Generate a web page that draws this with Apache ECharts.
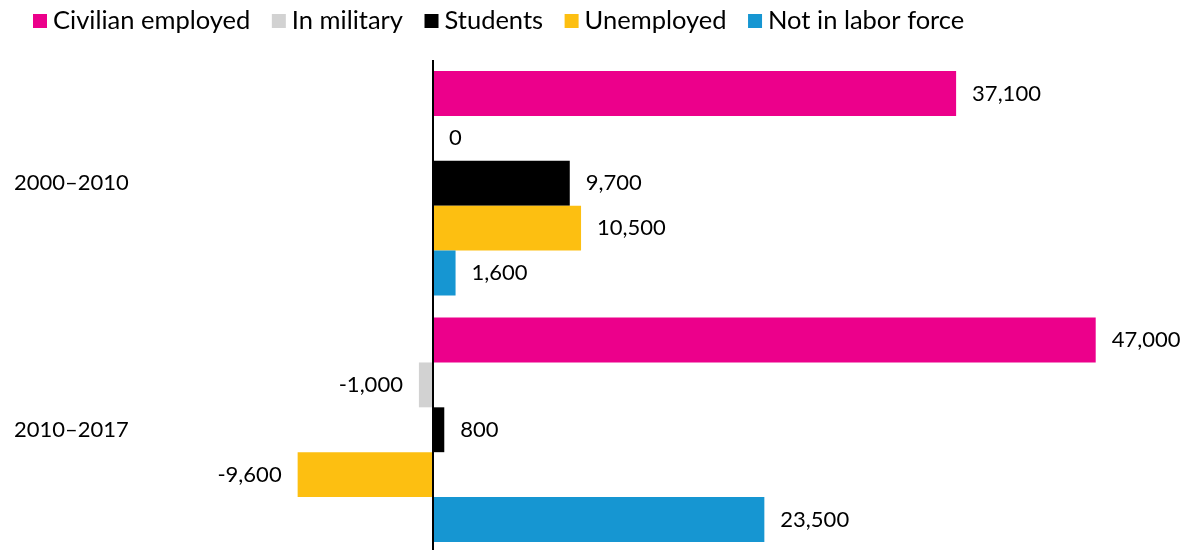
<!DOCTYPE html>
<html>
<head>
<meta charset="utf-8">
<script src="https://cdn.jsdelivr.net/npm/echarts@6/dist/echarts.min.js"></script>
<style>
  html, body { margin: 0; padding: 0; background: #fff; overflow: hidden; }
  #chart { width: 1190px; height: 560px; }
</style>
</head>
<body>
<div id="chart"></div>
<script>
const periods = ['2000–2010', '2010–2017']
const seriesNames = ['Civilian employed', 'In military', 'Students', 'Unemployed', 'Not in labor force']
const civilianEmployed = [37100, 47000]
const inMilitary = [0, -1000]
const students = [9700, 800]
const unemployed = [10500, -9600]
const notInLaborForce = [1600, 23500]
const colors = ['#ec008b', '#d2d2d2', '#000000', '#fdbf11', '#1696d2']

const chart = echarts.init(document.getElementById('chart'))
const font = 'Lato, "Noto Sans", sans-serif'

// 正负值标签放在柱子外侧
function toItems(values) {
  return values.map(v => ({
    value: v,
    label: { position: v < 0 ? 'left' : 'right' }
  }))
}

const allValues = [civilianEmployed, inMilitary, students, unemployed, notInLaborForce]
const series = allValues.map((values, i) => ({
  name: seriesNames[i],
  type: 'bar',
  data: toItems(values),
  barGap: '0%',
  barCategoryGap: '9%',
  itemStyle: { color: colors[i] },
  label: {
    show: true,
    distance: 16,
    color: '#000',
    fontFamily: font,
    fontSize: 22,
    formatter: p => (p.value < 0 ? '-' : '') + Math.abs(p.value).toLocaleString('en-US')
  },
  markLine: i === 0 ? {
    silent: true,
    symbol: 'none',
    label: { show: false },
    lineStyle: { color: '#000', width: 2, type: 'solid' },
    data: [{ xAxis: 0 }]
  } : undefined
}))

chart.setOption({
  animation: false,
  color: colors,
  textStyle: { fontFamily: font },
  legend: {
    left: 33,
    top: 8,
    padding: 0,
    icon: 'rect',
    itemWidth: 14,
    itemHeight: 14,
    itemGap: 21.5,
    textStyle: { fontSize: 25.5, color: '#000', fontFamily: font, padding: [0, 0, 0, 1] },
    data: seriesNames
  },
  grid: {
    left: 151,
    top: 60,
    width: 987,
    height: 493
  },
  xAxis: {
    type: 'value',
    min: -20000,
    max: 50000,
    show: false
  },
  yAxis: {
    type: 'category',
    inverse: true,
    data: periods,
    axisLine: { show: false, onZero: false },
    axisTick: { show: false },
    axisLabel: {
      align: 'left',
      margin: 137,
      color: '#000',
      fontSize: 22,
      fontFamily: font
    }
  },
  series: series
})
</script>
</body>
</html>
